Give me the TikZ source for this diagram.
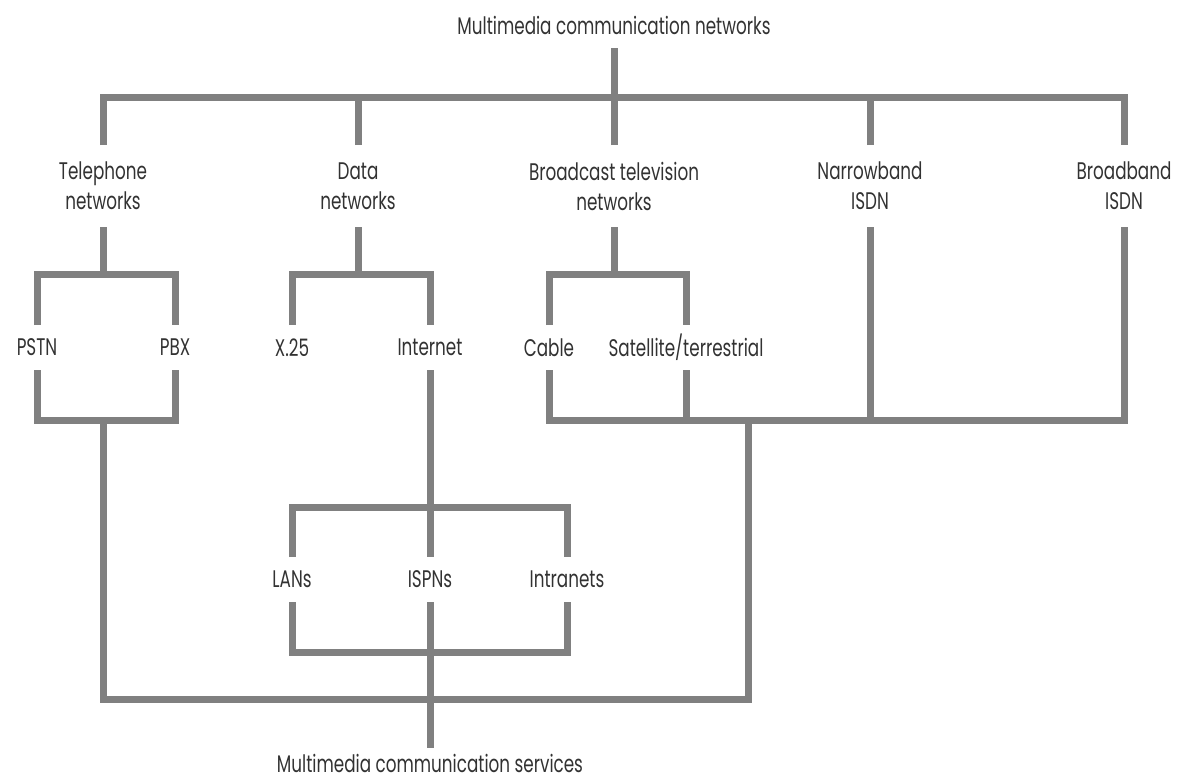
\documentclass[tikz,border=0pt]{standalone}
\usepackage{fontspec}
\setmainfont{Poppins}[FakeStretch=0.7]
\definecolor{linegray}{RGB}{128,128,128}
\definecolor{txtgray}{RGB}{50,50,50}
\begin{document}
\begin{tikzpicture}[x=1pt,y=-1pt,
  conn/.style={draw=linegray,line width=7pt,line join=miter},
  lbl/.style={inner sep=0pt,outer sep=0pt,text=txtgray,font=\fontsize{24}{30}\selectfont,align=center},
  lbltwo/.style={lbl,minimum height=82pt},
  lblone/.style={lbl,minimum height=45pt}]
\useasboundingbox (0,0) rectangle (1188,782);
% labels
\node[lbl,minimum height=46pt] (title) at (614,25) {Multimedia communication networks};
\node[lbltwo] (tel) at (103,186) {Telephone\\networks};
\node[lbltwo] (data) at (358,186) {Data\\networks};
\node[lbltwo] (bc) at (614,186) {Broadcast television\\networks};
\node[lbltwo] (nb) at (870,186) {Narrowband\\ISDN};
\node[lbltwo] (bb) at (1124,186) {Broadband\\ISDN};
\node[lblone] (pstn) at (37,347.5) {PSTN};
\node[lblone] (pbx) at (175,347.5) {PBX};
\node[lblone] (x25) at (292,347.5) {X.25};
\node[lblone] (inet) at (430,347.5) {Internet};
\node[lblone] (cable) at (549,347.5) {Cable};
\node[lblone] (sat) at (686,347.5) {Satellite/terrestrial};
\node[lblone] (lans) at (292,579.5) {LANs};
\node[lblone] (ispn) at (430,579.5) {ISPNs};
\node[lblone] (intra) at (567,579.5) {Intranets};
\node[lbl,minimum height=30pt] (mcs) at (430,763) {Multimedia communication services};
% junction points
\coordinate (hub) at (614,97);
\coordinate (telj) at (103,274);
\coordinate (telk) at (103,420);
\coordinate (dataj) at (358,274);
\coordinate (bcj) at (614,274);
\coordinate (bck) at (748,420);
\coordinate (inetj) at (430,507);
\coordinate (lank) at (430,652);
\coordinate (sink) at (430,699);
% connectors
\draw[conn] (title.south) -- (hub);
\draw[conn] (tel.north) |- (hub) -| (bb.north);
\draw[conn] (data.north) -- (data.north |- hub);
\draw[conn] (bc.north) -- (hub);
\draw[conn] (nb.north) -- (nb.north |- hub);
% telephone
\draw[conn] (tel.south) -- (telj);
\draw[conn] (pstn.north) |- (telj) -| (pbx.north);
\draw[conn] (pstn.south) |- (telk) -| (pbx.south);
\draw[conn] (telk) |- (sink) -| (bck);
% data
\draw[conn] (data.south) -- (dataj);
\draw[conn] (x25.north) |- (dataj) -| (inet.north);
\draw[conn] (inet.south) -- (inetj);
\draw[conn] (lans.north) |- (inetj) -| (intra.north);
\draw[conn] (inetj) -- (ispn.north);
\draw[conn] (lans.south) |- (lank) -| (intra.south);
\draw[conn] (ispn.south) -- (mcs.north);
% broadcast
\draw[conn] (bc.south) -- (bcj);
\draw[conn] (cable.north) |- (bcj) -| (sat.north);
\draw[conn] (cable.south) |- (bck) -| (bb.south);
\draw[conn] (sat.south) -- (sat.south |- bck);
\draw[conn] (nb.south) -- (nb.south |- bck);
\end{tikzpicture}
\end{document}
